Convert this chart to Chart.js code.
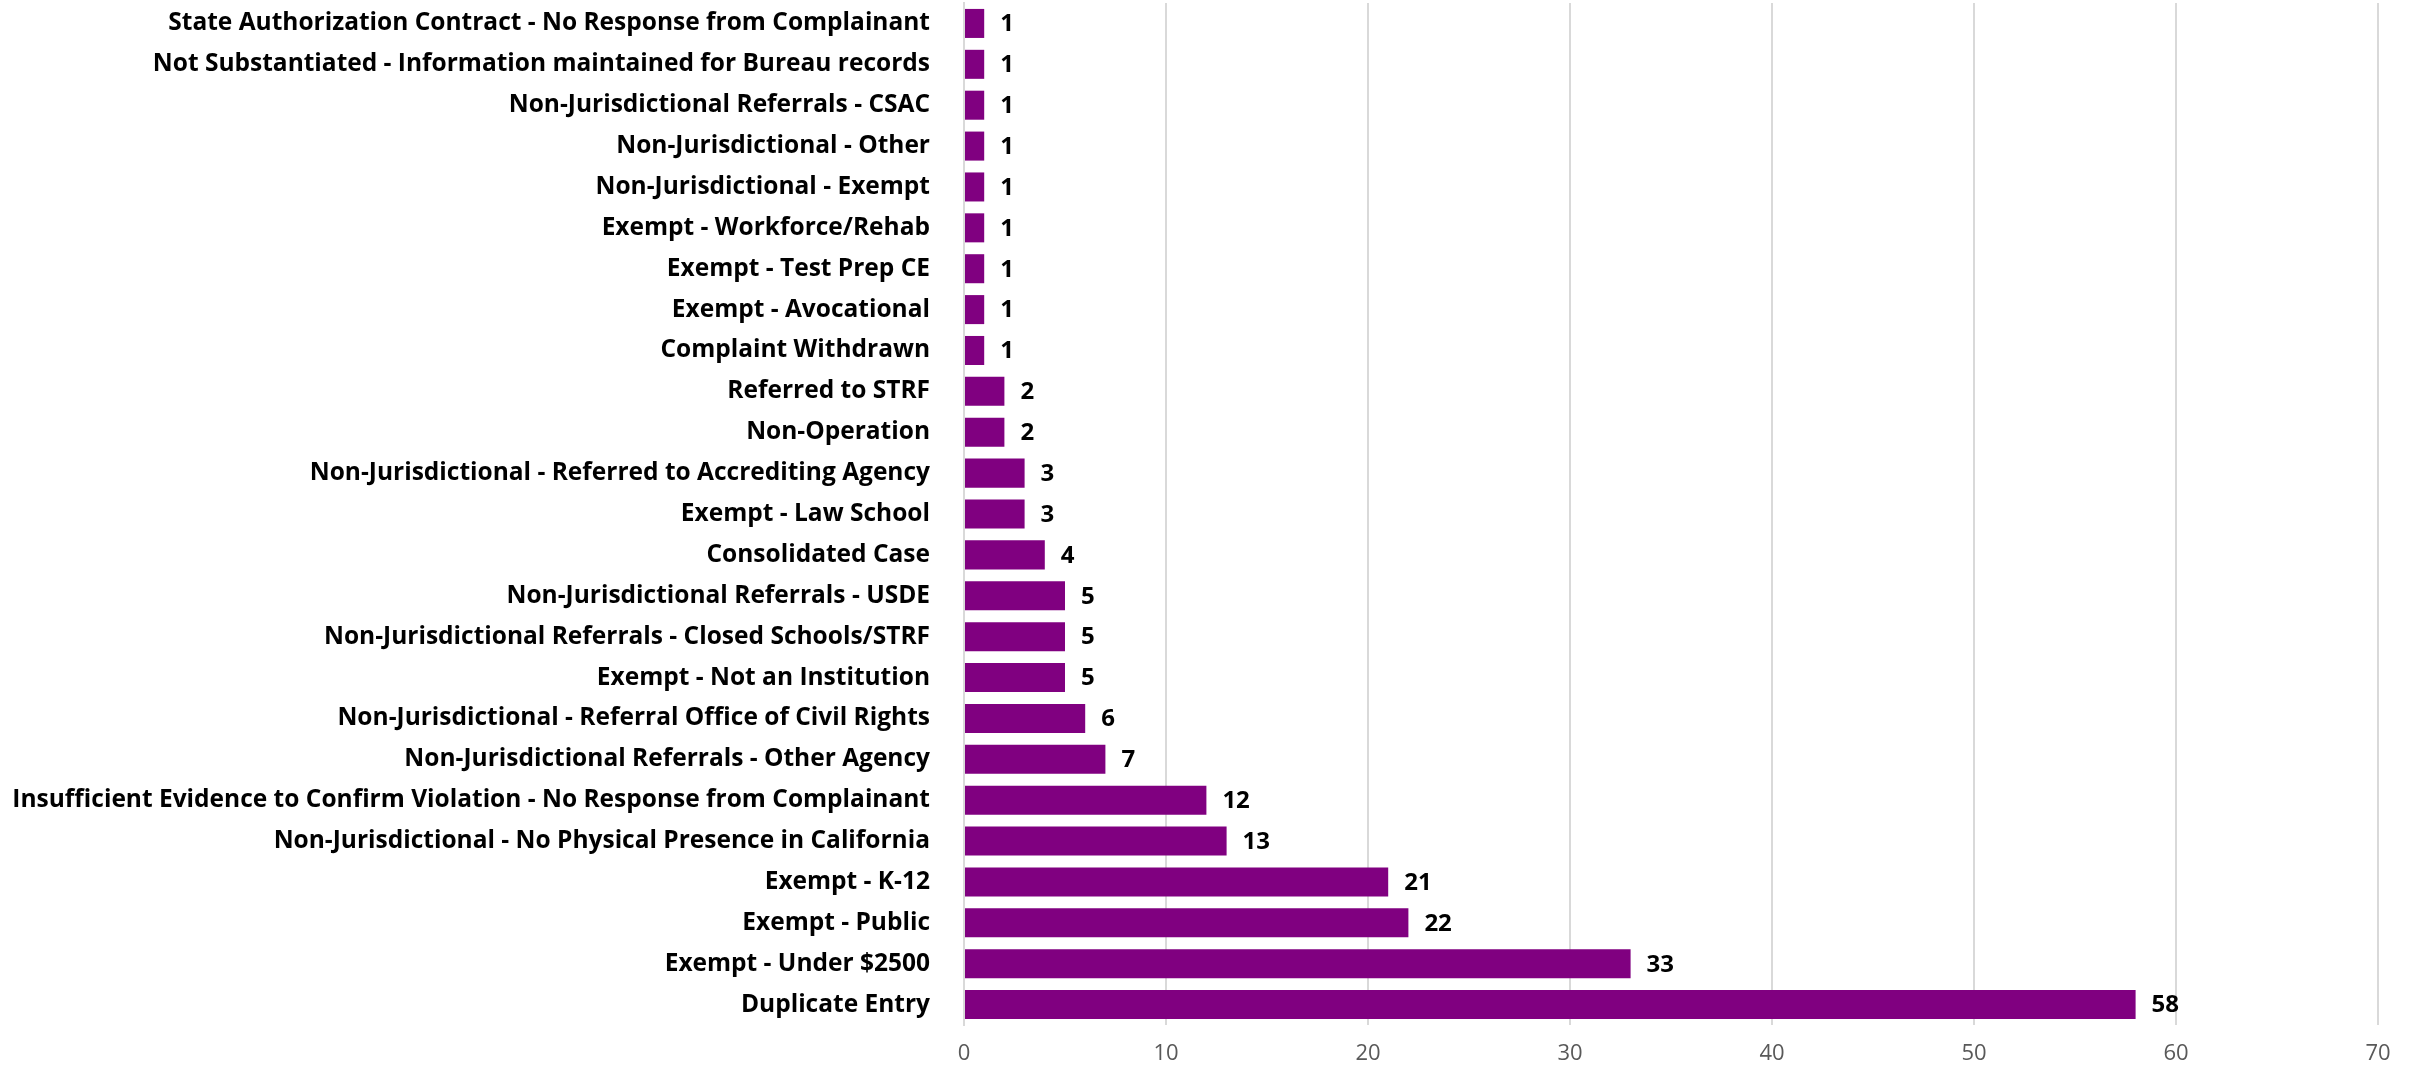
<!DOCTYPE html>
<html>
<head>
<meta charset="utf-8">
<script src="https://cdn.jsdelivr.net/npm/chart.js@4.4.1/dist/chart.umd.min.js"></script>
<style>
  html, body { margin: 0; padding: 0; background: #ffffff; }
  #wrap { width: 2422px; height: 1066px; position: relative; }
</style>
</head>
<body>
<div id="wrap"><canvas id="chart"></canvas></div>
<script>
// Complaint closure reasons, listed top to bottom
const categories = [
  "State Authorization Contract - No Response from Complainant",
  "Not Substantiated - Information maintained for Bureau records",
  "Non-Jurisdictional Referrals - CSAC",
  "Non-Jurisdictional - Other",
  "Non-Jurisdictional - Exempt",
  "Exempt - Workforce/Rehab",
  "Exempt - Test Prep CE",
  "Exempt - Avocational",
  "Complaint Withdrawn",
  "Referred to STRF",
  "Non-Operation",
  "Non-Jurisdictional - Referred to Accrediting Agency",
  "Exempt - Law School",
  "Consolidated Case",
  "Non-Jurisdictional Referrals - USDE",
  "Non-Jurisdictional Referrals - Closed Schools/STRF",
  "Exempt - Not an Institution",
  "Non-Jurisdictional - Referral Office of Civil Rights",
  "Non-Jurisdictional Referrals - Other Agency",
  "Insufficient Evidence to Confirm Violation - No Response from Complainant",
  "Non-Jurisdictional - No Physical Presence in California",
  "Exempt - K-12",
  "Exempt - Public",
  "Exempt - Under $2500",
  "Duplicate Entry"
];

const counts = [1, 1, 1, 1, 1, 1, 1, 1, 1, 2, 2, 3, 3, 4, 5, 5, 5, 6, 7, 12, 13, 21, 22, 33, 58];

const xTicks = [0, 10, 20, 30, 40, 50, 60, 70];

// Writes each bar's count just past its end
const barValueLabels = {
  id: 'barValueLabels',
  afterDatasetsDraw(chart) {
    const { ctx } = chart;
    const meta = chart.getDatasetMeta(0);
    ctx.save();
    ctx.font = 'bold 24px "Open Sans"';
    ctx.fillStyle = '#000000';
    ctx.textAlign = 'left';
    ctx.textBaseline = 'middle';
    meta.data.forEach((bar, i) => {
      ctx.fillText(String(chart.data.datasets[0].data[i]), bar.x + 16, bar.y + 1);
    });
    ctx.restore();
  }
};

new Chart(document.getElementById('chart'), {
  type: 'bar',
  data: {
    labels: categories,
    datasets: [{
      data: counts,
      backgroundColor: '#800080',
      borderWidth: 0,
      barPercentage: 0.71,
      categoryPercentage: 1.0
    }]
  },
  options: {
    indexAxis: 'y',
    responsive: true,
    maintainAspectRatio: false,
    animation: false,
    layout: { padding: { top: 3, right: 44, bottom: 0, left: 0 } },
    plugins: {
      legend: { display: false },
      tooltip: { enabled: false }
    },
    scales: {
      x: {
        min: 0,
        max: 70,
        afterBuildTicks(scale) { scale.ticks = xTicks.map(v => ({ value: v })); },
        afterFit(scale) { scale.height = 41; },
        grid: { color: '#d9d9d9', lineWidth: 2, drawTicks: false },
        border: { display: false },
        ticks: {
          padding: 16,
          color: '#595959',
          font: { family: 'Open Sans', size: 22 }
        }
      },
      y: {
        afterFit(scale) {
          scale.width = 964;
          scale.paddingTop = 0;
          scale.paddingBottom = 0;
        },
        grid: { display: false, drawTicks: false },
        border: { display: true, color: '#d9d9d9', width: 2 },
        ticks: {
          padding: 34,
          color: '#000000',
          autoSkip: false,
          font: { family: 'Open Sans', size: 24.5, weight: 'bold' }
        }
      }
    }
  },
  plugins: [barValueLabels]
});
</script>
</body>
</html>
